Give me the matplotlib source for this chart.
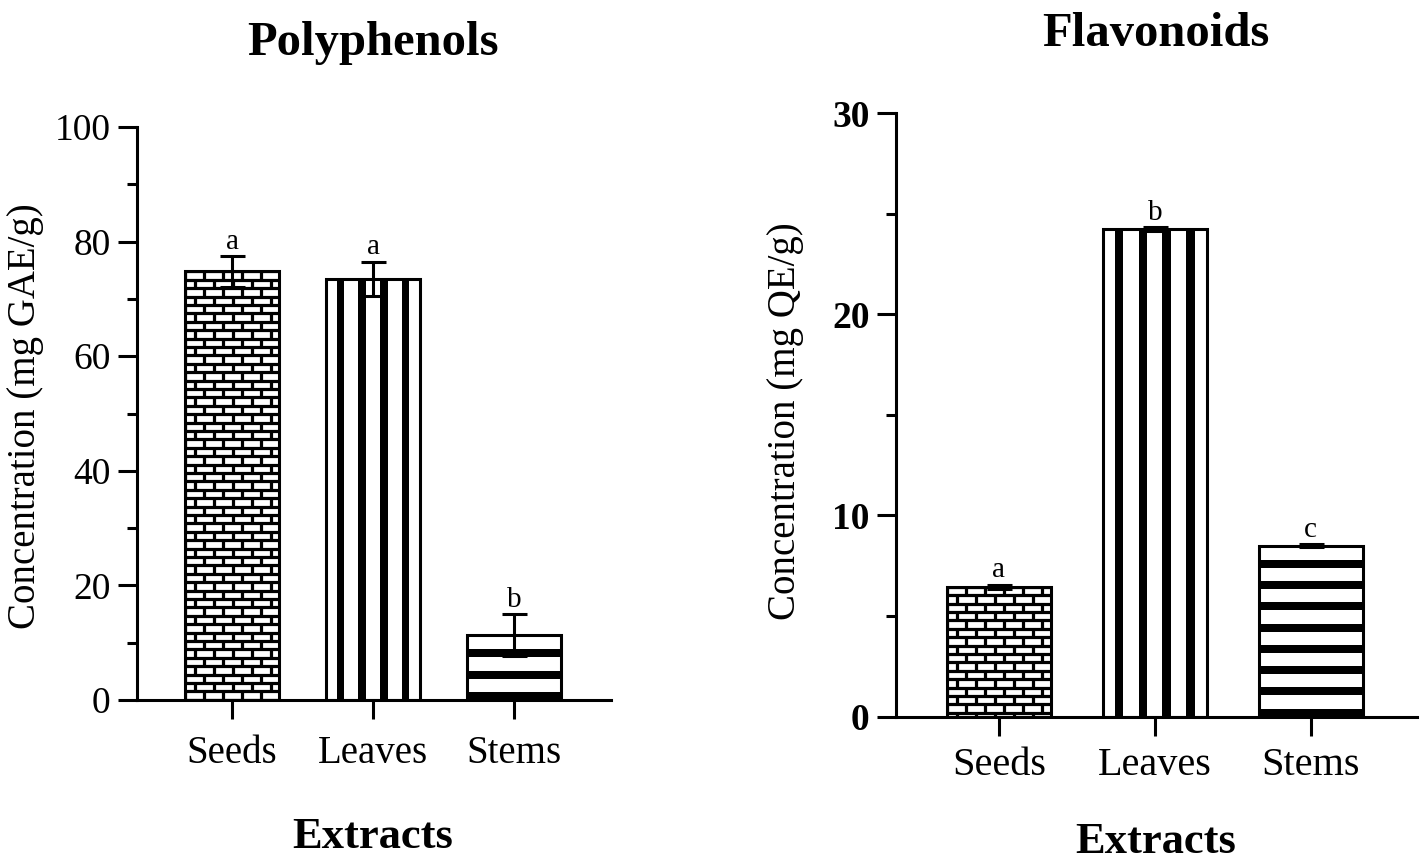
import matplotlib
matplotlib.use('Agg')
import matplotlib.pyplot as plt
from matplotlib.lines import Line2D
from matplotlib.patches import Rectangle
from matplotlib.ticker import MultipleLocator, FixedLocator

# ---------------- data ----------------
categories = ['Seeds', 'Leaves', 'Stems']
poly_values = [74.8, 73.5, 11.3]
poly_errors = [2.7, 3.0, 3.7]
poly_letters = ['a', 'a', 'b']
flav_values = [6.46, 24.24, 8.5]
flav_errors = [0.10, 0.10, 0.07]
flav_letters = ['a', 'b', 'c']
poly_yticks = [0, 20, 40, 60, 80, 100]
flav_yticks = [0, 10, 20, 30]
patterns = ['brick', 'vstripe', 'hstripe']

plt.rcParams['font.family'] = ['Liberation Serif', 'DejaVu Serif']
FIG_W, FIG_H, DPI = 14.21, 8.67, 100
fig = plt.figure(figsize=(FIG_W, FIG_H), dpi=DPI)
LW = 2.2


def px_scale(ax):
    pos = ax.get_position()
    wpx = pos.width * FIG_W * DPI
    hpx = pos.height * FIG_H * DPI
    x0, x1 = ax.get_xlim()
    y0, y1 = ax.get_ylim()
    return (x1 - x0) / wpx, (y1 - y0) / hpx


def add_pattern(ax, patch, kind):
    sx, sy = px_scale(ax)
    x0, w = patch.get_x(), patch.get_width()
    y0, h = patch.get_y(), patch.get_height()
    arts = []
    mortar = 3.2 * 0.72
    if kind == 'brick':
        row = 8.4 * sy
        brick = 19.0 * sx
        top = y0 + h
        nrows = int(h / row) + 2
        for r in range(nrows):
            yl = top - r * row
            arts.append(Line2D([x0, x0 + w], [yl, yl], color='black', lw=mortar,
                               solid_capstyle='butt'))
            yb = yl - row
            xv = x0 + (0 if r % 2 == 0 else brick / 2)
            while xv < x0 + w:
                arts.append(Line2D([xv, xv], [yb, yl], color='black', lw=mortar,
                                   solid_capstyle='butt'))
                xv += brick
    elif kind == 'vstripe':
        sw = 0.083 * w
        for c in (-0.345, -0.115, 0.115, 0.345):
            xc = x0 + w * (0.5 + c)
            arts.append(Rectangle((xc - sw / 2, y0), sw, h, facecolor='black',
                                  edgecolor='none'))
    elif kind == 'hstripe':
        period = 21.3 * sy
        th = 8.0 * sy
        yb = y0
        while yb < y0 + h - th * 0.5:
            arts.append(Rectangle((x0, yb), w, th, facecolor='black',
                                  edgecolor='none'))
            yb += period
    for a in arts:
        if isinstance(a, Line2D):
            ax.add_line(a)
        else:
            ax.add_patch(a)
        a.set_clip_path(patch)
        a.set_zorder(2.5)


def make_panel(rect, xlim, ylim, values, errors, letters, yticks, minor_step,
               title, title_xy, ylabel, ylabel_xy, xlabel_xy,
               ytick_size, ytick_weight, xtick_size, xtick_pad, title_size):
    ax = fig.add_axes(rect)
    ax.set_xlim(*xlim)
    ax.set_ylim(*ylim)
    x = list(range(len(categories)))
    bars = ax.bar(x, values, width=2 / 3, color='white', edgecolor='none', zorder=2)
    for b, kind in zip(bars, patterns):
        add_pattern(ax, b, kind)
    ax.bar(x, values, width=2 / 3, fill=False, edgecolor='black', linewidth=LW,
           zorder=3)
    ax.errorbar(x, values, yerr=errors, fmt='none', ecolor='black',
                elinewidth=LW, capsize=9, capthick=LW, zorder=4)
    for xi, v, e, t in zip(x, values, errors, letters):
        ax.annotate(t, (xi, v + e), xytext=(0, 1.0), textcoords='offset points',
                    ha='center', va='bottom', fontsize=21)
    for s in ('top', 'right'):
        ax.spines[s].set_visible(False)
    for s in ('left', 'bottom'):
        ax.spines[s].set_linewidth(LW)
    ax.xaxis.set_major_locator(FixedLocator(x))
    ax.set_xticklabels(categories)
    ax.yaxis.set_major_locator(FixedLocator(yticks))
    ax.yaxis.set_minor_locator(MultipleLocator(minor_step))
    ax.tick_params(which='major', length=14, width=LW, direction='out', pad=5)
    ax.tick_params(which='minor', length=7, width=LW, direction='out')
    ax.tick_params(axis='x', labelsize=xtick_size, pad=xtick_pad)
    ax.tick_params(axis='y', labelsize=ytick_size)
    for lab in ax.get_yticklabels():
        lab.set_fontweight(ytick_weight)
    ax.set_title(title, fontsize=title_size, fontweight='bold',
                 x=title_xy[0], y=title_xy[1], pad=0, va='baseline')
    ax.set_ylabel(ylabel, fontsize=28)
    ax.yaxis.label.set_ha('center')
    ax.yaxis.label.set_va('center')
    ax.yaxis.set_label_coords(*ylabel_xy)
    ax.set_xlabel('Extracts', fontsize=32, fontweight='bold')
    ax.xaxis.label.set_va('baseline')
    ax.xaxis.set_label_coords(*xlabel_xy)
    return ax


# left panel: axes px x 137..611, y 127..700
make_panel([137 / 1421, 167 / 867, 474 / 1421, 573 / 867],
           (-0.674, 2.688), (0, 100), poly_values, poly_errors, poly_letters,
           poly_yticks, 10, 'Polyphenols', (0.498, (700 - 55) / 573),
           'Concentration (mg GAE/g)', (-0.236, 0.496),
           (0.498, (700 - 848) / 573), 27, 'normal', 28, 11, 35)

# right panel: axes px x 896..1417, y 113..716.7
make_panel([896 / 1421, (867 - 716.7) / 867, 521 / 1421, 603.7 / 867],
           (-0.661, 2.683), (0, 30), flav_values, flav_errors, flav_letters,
           flav_yticks, 5, 'Flavonoids', (0.499, (716.7 - 46) / 603.7),
           'Concentration (mg QE/g)', (-0.213, 0.489),
           (0.499, (716.7 - 853) / 603.7), 27, 'bold', 29, 7.5, 35)

fig.savefig('out.png', dpi=DPI)
